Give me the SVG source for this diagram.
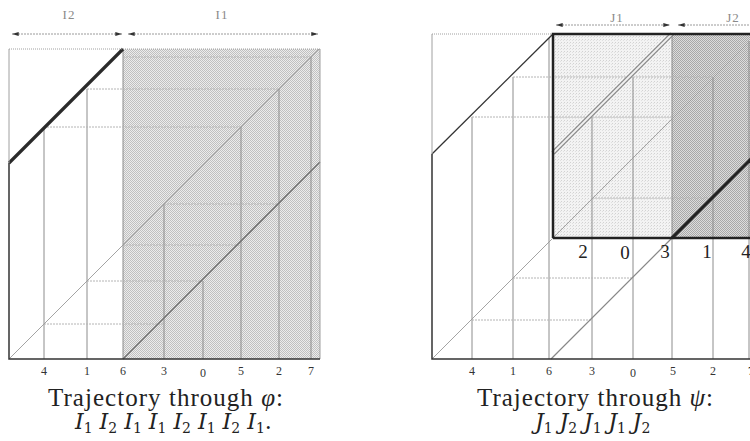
<svg xmlns="http://www.w3.org/2000/svg" width="750" height="441" viewBox="0 0 750 441">
<style>
.v{stroke:#8c8c8c;stroke-width:1;fill:none}
.h{stroke:#b4b4b4;stroke-width:1;stroke-dasharray:2 1;fill:none}
.diag{stroke:#9a9a9a;stroke-width:0.9;fill:none}
.dark{stroke:#333;stroke-width:1.5;fill:none}
.lite{stroke:#a0a0a0;stroke-width:1;fill:none}
.dot{stroke:#a0a0a0;stroke-width:1;stroke-dasharray:1 1;fill:none}
.arr{stroke:#9a9a9a;stroke-width:1;stroke-dasharray:2 1;fill:none;marker-start:url(#ah);marker-end:url(#ah)}
.tick{font-family:"Liberation Serif",serif;font-size:12px;fill:#333;text-anchor:middle}
.big{font-family:"Liberation Serif",serif;font-size:19px;fill:#222;text-anchor:middle}
.top{font-family:"Liberation Serif",serif;font-size:13px;fill:#8a8a8a;text-anchor:middle;letter-spacing:1px}
.cap{font-family:"Liberation Serif",serif;font-size:25px;fill:#222}
.seq{font-family:"DejaVu Serif",serif;font-size:22px;fill:#222;font-style:italic}
.sub{font-size:14px;font-style:normal}
</style>
<defs>
<marker id="ah" viewBox="0 0 10 6" refX="10" refY="3" markerWidth="7" markerHeight="4" markerUnits="userSpaceOnUse" orient="auto-start-reverse">
<path d="M0,0 L10,3 L0,6 z" fill="#333"/>
</marker>
<pattern id="ht1" width="2" height="2" patternUnits="userSpaceOnUse">
<rect width="2" height="2" fill="#ececec"/><rect width="1" height="1" fill="#c0c0c0"/><rect x="1" y="1" width="1" height="1" fill="#c0c0c0"/>
</pattern>
<pattern id="ht2" width="2" height="2" patternUnits="userSpaceOnUse">
<rect width="2" height="2" fill="#dcdcdc"/><rect width="1" height="1" fill="#a8a8a8"/><rect x="1" y="1" width="1" height="1" fill="#a8a8a8"/>
</pattern>
<pattern id="ht3" width="3" height="3" patternUnits="userSpaceOnUse">
<rect width="3" height="3" fill="#f3f3f3"/><rect width="1" height="1" fill="#d2d2d2"/><rect x="2" y="1" width="1" height="1" fill="#e0e0e0"/>
</pattern>
</defs>
<rect width="750" height="441" fill="#fff"/>

<g id="left-panel">
<g id="left-fill">
<rect x="123" y="49" width="197" height="310" fill="url(#ht1)"/>
</g>
<g id="left-cobweb">
<path class="v" d="M44,359V127 M87,359V89 M123,359V49 M164,359V204 M203,359V281 M241,359V127 M279,359V89 M311,359V57"/>
<path class="h" d="M87,281H203 M87,89H279 M164,204H279 M44,324H164 M44,127H241 M123,245H241 M123,57H311"/>
</g>
<g id="left-graph">
<path class="diag" d="M9,359L319,49"/>
<path d="M123,359L320,162" stroke="#777" stroke-width="1.6" fill="none"/>
<path d="M9,163L123,49" stroke="#2a2a2a" stroke-width="3.2" fill="none"/>
</g>
<g id="left-frame">
<path class="lite" d="M9,49V163 M320,49V359"/>
<path class="dot" d="M9,49H320"/>
<path class="dark" d="M9,163V359H320"/>
</g>
<g id="left-intervals">
<path class="arr" d="M12,34H122"/>
<path class="arr" d="M128,34H318"/>
<text class="top" x="69" y="19">I2</text>
<text class="top" x="222" y="19">I1</text>
</g>
<g id="left-ticks">
<text class="tick" x="44" y="375">4</text>
<text class="tick" x="87" y="375">1</text>
<text class="tick" x="123" y="375">6</text>
<text class="tick" x="164" y="375">3</text>
<text class="tick" x="203" y="377">0</text>
<text class="tick" x="241" y="375">5</text>
<text class="tick" x="279" y="375">2</text>
<text class="tick" x="311" y="375">7</text>
</g>
<g id="left-caption">
<text class="cap" x="48" y="406" textLength="235" lengthAdjust="spacing">Trajectory through <tspan font-style="italic">φ</tspan>:</text>
<text class="seq" y="429"><tspan x="75">I</tspan><tspan class="sub" dy="4">1</tspan><tspan x="99.6" dy="-4">I</tspan><tspan class="sub" dy="4">2</tspan><tspan x="124.2" dy="-4">I</tspan><tspan class="sub" dy="4">1</tspan><tspan x="148.8" dy="-4">I</tspan><tspan class="sub" dy="4">1</tspan><tspan x="173.4" dy="-4">I</tspan><tspan class="sub" dy="4">2</tspan><tspan x="198" dy="-4">I</tspan><tspan class="sub" dy="4">1</tspan><tspan x="222.6" dy="-4">I</tspan><tspan class="sub" dy="4">2</tspan><tspan x="247.2" dy="-4">I</tspan><tspan class="sub" dy="4">1</tspan><tspan dy="-4" font-style="normal">.</tspan></text>
</g>
</g>

<g id="right-panel">
<g id="right-fill">
<rect x="553" y="34" width="119" height="204" fill="url(#ht3)"/>
<rect x="672" y="34" width="85" height="204" fill="url(#ht2)"/>
</g>
<g id="right-cobweb">
<path class="v" d="M472,359V117 M513,359V77 M549,359V38 M592,359V117 M633,359V77 M672,359V34 M713,359V77 M749,359V41"/>
<path class="h" d="M513,77H713 M472,117H672 M592,198H713 M513,278H633 M472,320H592"/>
</g>
<g id="right-graph">
<path class="diag" d="M432,359L757,34"/>
<path d="M551,359L672,238" stroke="#888" stroke-width="1.2" fill="none"/>
<path d="M432,154L553,34" stroke="#333" stroke-width="1.3" fill="none"/>
<path d="M553,153L672,34" stroke="#8a8a8a" stroke-width="4.5" fill="none"/>
<path d="M553,153L672,34" stroke="#f2f2f2" stroke-width="1.8" fill="none"/>
<path d="M672,238L757,153" stroke="#222" stroke-width="3.2" fill="none"/>
</g>
<g id="right-frame">
<path class="lite" d="M432,34V154"/>
<path class="dot" d="M432,34H553"/>
<path class="dark" d="M432,154V359H750"/>
<path d="M553,238V34H757 M553,238H757" stroke="#222" stroke-width="2.5" fill="none"/>
</g>
<g id="right-intervals">
<path class="arr" d="M556,25H670"/>
<path class="arr" d="M678,25H790"/>
<text class="top" x="617" y="22">J1</text>
<text class="top" x="733" y="22">J2</text>
</g>
<g id="right-ticks">
<text class="tick" x="472" y="375">4</text>
<text class="tick" x="513" y="375">1</text>
<text class="tick" x="549" y="375">6</text>
<text class="tick" x="592" y="375">3</text>
<text class="tick" x="633" y="377">0</text>
<text class="tick" x="673" y="375">5</text>
<text class="tick" x="713" y="375">2</text>
<text class="tick" x="751" y="375">7</text>
</g>
<g id="right-inner-ticks">
<text class="big" x="583" y="258">2</text>
<text class="big" x="625" y="259">0</text>
<text class="big" x="665" y="258">3</text>
<text class="big" x="707" y="258">1</text>
<text class="big" x="746" y="258">4</text>
</g>
<g id="right-caption">
<text class="cap" x="477" y="406" textLength="236" lengthAdjust="spacing">Trajectory through <tspan font-style="italic">ψ</tspan>:</text>
<text class="seq" y="429"><tspan x="535">J</tspan><tspan class="sub" dy="4">1</tspan><tspan x="559.4" dy="-4">J</tspan><tspan class="sub" dy="4">2</tspan><tspan x="583.8" dy="-4">J</tspan><tspan class="sub" dy="4">1</tspan><tspan x="608.2" dy="-4">J</tspan><tspan class="sub" dy="4">1</tspan><tspan x="632.6" dy="-4">J</tspan><tspan class="sub" dy="4">2</tspan></text>
</g>
</g>
</svg>
